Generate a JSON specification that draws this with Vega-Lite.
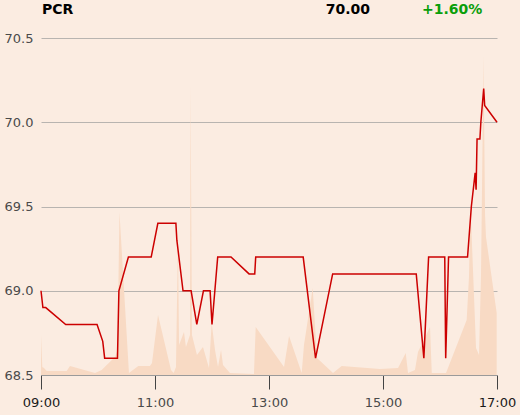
{
  "$schema": "https://vega.github.io/schema/vega-lite/v6.json",
  "autosize": {"type": "none"},
  "width": 456,
  "height": 337,
  "padding": {"left": 41, "top": 38, "right": 23, "bottom": 40},
  "background": "#FBECE1",
  "config": {
    "view": {"stroke": null},
    "font": "DejaVu Sans"
  },
  "datasets": {
    "price": [
      {"t": "2024-01-02T09:00:00", "p": 69.0},
      {"t": "2024-01-02T09:02:00", "p": 68.9},
      {"t": "2024-01-02T09:05:00", "p": 68.9},
      {"t": "2024-01-02T09:26:00", "p": 68.8},
      {"t": "2024-01-02T09:59:00", "p": 68.8},
      {"t": "2024-01-02T10:05:00", "p": 68.7},
      {"t": "2024-01-02T10:07:00", "p": 68.6},
      {"t": "2024-01-02T10:20:30", "p": 68.6},
      {"t": "2024-01-02T10:22:00", "p": 69.0},
      {"t": "2024-01-02T10:32:00", "p": 69.2},
      {"t": "2024-01-02T10:56:00", "p": 69.2},
      {"t": "2024-01-02T11:03:00", "p": 69.4},
      {"t": "2024-01-02T11:22:00", "p": 69.4},
      {"t": "2024-01-02T11:23:00", "p": 69.3},
      {"t": "2024-01-02T11:29:30", "p": 69.0},
      {"t": "2024-01-02T11:38:00", "p": 69.0},
      {"t": "2024-01-02T11:44:00", "p": 68.8},
      {"t": "2024-01-02T11:51:00", "p": 69.0},
      {"t": "2024-01-02T11:58:00", "p": 69.0},
      {"t": "2024-01-02T12:00:00", "p": 68.8},
      {"t": "2024-01-02T12:06:00", "p": 69.2},
      {"t": "2024-01-02T12:20:00", "p": 69.2},
      {"t": "2024-01-02T12:39:00", "p": 69.1},
      {"t": "2024-01-02T12:45:00", "p": 69.1},
      {"t": "2024-01-02T12:46:00", "p": 69.2},
      {"t": "2024-01-02T13:36:00", "p": 69.2},
      {"t": "2024-01-02T13:49:00", "p": 68.6},
      {"t": "2024-01-02T14:07:00", "p": 69.1},
      {"t": "2024-01-02T15:35:00", "p": 69.1},
      {"t": "2024-01-02T15:43:00", "p": 68.6},
      {"t": "2024-01-02T15:48:00", "p": 69.2},
      {"t": "2024-01-02T16:05:00", "p": 69.2},
      {"t": "2024-01-02T16:06:00", "p": 68.6},
      {"t": "2024-01-02T16:09:00", "p": 69.2},
      {"t": "2024-01-02T16:29:00", "p": 69.2},
      {"t": "2024-01-02T16:33:00", "p": 69.5},
      {"t": "2024-01-02T16:37:00", "p": 69.7},
      {"t": "2024-01-02T16:38:00", "p": 69.6},
      {"t": "2024-01-02T16:39:00", "p": 69.9},
      {"t": "2024-01-02T16:42:00", "p": 69.9},
      {"t": "2024-01-02T16:43:00", "p": 70.0},
      {"t": "2024-01-02T16:46:00", "p": 70.2},
      {"t": "2024-01-02T16:47:00", "p": 70.1},
      {"t": "2024-01-02T17:00:00", "p": 70.0}
    ],
    "volume": [
      {"t": "2024-01-02T09:00:00", "v": 40},
      {"t": "2024-01-02T09:01:22", "v": 8},
      {"t": "2024-01-02T09:03:10", "v": 7},
      {"t": "2024-01-02T09:06:00", "v": 4},
      {"t": "2024-01-02T09:27:00", "v": 4},
      {"t": "2024-01-02T09:30:30", "v": 9},
      {"t": "2024-01-02T09:56:50", "v": 2},
      {"t": "2024-01-02T10:03:55", "v": 5},
      {"t": "2024-01-02T10:09:10", "v": 10},
      {"t": "2024-01-02T10:17:55", "v": 18},
      {"t": "2024-01-02T10:20:30", "v": 25},
      {"t": "2024-01-02T10:22:35", "v": 163},
      {"t": "2024-01-02T10:32:35", "v": 2},
      {"t": "2024-01-02T10:42:25", "v": 9},
      {"t": "2024-01-02T10:54:40", "v": 9},
      {"t": "2024-01-02T10:56:50", "v": 12},
      {"t": "2024-01-02T11:03:10", "v": 60},
      {"t": "2024-01-02T11:07:25", "v": 43},
      {"t": "2024-01-02T11:16:50", "v": 5},
      {"t": "2024-01-02T11:19:40", "v": 2},
      {"t": "2024-01-02T11:22:05", "v": 8},
      {"t": "2024-01-02T11:24:10", "v": 135},
      {"t": "2024-01-02T11:25:20", "v": 30},
      {"t": "2024-01-02T11:30:30", "v": 43},
      {"t": "2024-01-02T11:32:35", "v": 28},
      {"t": "2024-01-02T11:36:50", "v": 40},
      {"t": "2024-01-02T11:37:25", "v": 290},
      {"t": "2024-01-02T11:38:55", "v": 40},
      {"t": "2024-01-02T11:44:10", "v": 20},
      {"t": "2024-01-02T11:50:30", "v": 28},
      {"t": "2024-01-02T11:56:50", "v": 7},
      {"t": "2024-01-02T11:59:40", "v": 52},
      {"t": "2024-01-02T12:03:10", "v": 25},
      {"t": "2024-01-02T12:06:20", "v": 8},
      {"t": "2024-01-02T12:09:30", "v": 25},
      {"t": "2024-01-02T12:11:35", "v": 10},
      {"t": "2024-01-02T12:18:55", "v": 2},
      {"t": "2024-01-02T12:44:10", "v": 1},
      {"t": "2024-01-02T12:46:00", "v": 48},
      {"t": "2024-01-02T13:15:50", "v": 8},
      {"t": "2024-01-02T13:21:05", "v": 39},
      {"t": "2024-01-02T13:34:25", "v": 2},
      {"t": "2024-01-02T13:36:50", "v": 30},
      {"t": "2024-01-02T13:46:00", "v": 87},
      {"t": "2024-01-02T13:50:30", "v": 17},
      {"t": "2024-01-02T14:07:25", "v": 2},
      {"t": "2024-01-02T14:16:30", "v": 9},
      {"t": "2024-01-02T14:56:50", "v": 6},
      {"t": "2024-01-02T15:15:50", "v": 7},
      {"t": "2024-01-02T15:23:55", "v": 22},
      {"t": "2024-01-02T15:26:20", "v": 2},
      {"t": "2024-01-02T15:33:40", "v": 5},
      {"t": "2024-01-02T15:36:50", "v": 23},
      {"t": "2024-01-02T15:49:30", "v": 48},
      {"t": "2024-01-02T15:51:20", "v": 2},
      {"t": "2024-01-02T16:03:10", "v": 2},
      {"t": "2024-01-02T16:06:20", "v": 2},
      {"t": "2024-01-02T16:28:05", "v": 55},
      {"t": "2024-01-02T16:30:30", "v": 98},
      {"t": "2024-01-02T16:32:05", "v": 170},
      {"t": "2024-01-02T16:37:55", "v": 27},
      {"t": "2024-01-02T16:41:05", "v": 20},
      {"t": "2024-01-02T16:43:10", "v": 100},
      {"t": "2024-01-02T16:45:50", "v": 319},
      {"t": "2024-01-02T16:47:25", "v": 160},
      {"t": "2024-01-02T16:48:25", "v": 138},
      {"t": "2024-01-02T16:59:40", "v": 62}
    ],
    "header": [
      {"name": "PCR", "last": 70.0, "change": "+1.60%"}
    ]
  },
  "layer": [
    {
      "data": {"name": "volume"},
      "mark": {"type": "area", "color": "#F8DAC4", "interpolate": "linear"},
      "encoding": {
        "x": {
          "field": "t", "type": "temporal",
          "scale": {"domain": [{"year": 2024, "month": 1, "date": 2, "hours": 9}, {"year": 2024, "month": 1, "date": 2, "hours": 17}]},
          "axis": {
            "values": [
              {"year": 2024, "month": 1, "date": 2, "hours": 9},
              {"year": 2024, "month": 1, "date": 2, "hours": 11},
              {"year": 2024, "month": 1, "date": 2, "hours": 13},
              {"year": 2024, "month": 1, "date": 2, "hours": 15},
              {"year": 2024, "month": 1, "date": 2, "hours": 17}
            ],
            "format": "%H:%M",
            "title": null,
            "grid": false,
            "domain": true,
            "domainColor": "#9a9a9a",
            "domainWidth": 1,
            "ticks": true,
            "tickSize": 14,
            "tickColor": "#444444",
            "tickWidth": 1,
            "labelPadding": 7,
            "labelFlush": false,
            "labelFontSize": 13,
            "labelFont": "DejaVu Sans",
            "labelColor": {"condition": {"test": "hours(datum.value) == 9 || hours(datum.value) == 17", "value": "#1a1a1a"}, "value": "#4a4a4a"}
          }
        },
        "y": {
          "field": "v", "type": "quantitative",
          "scale": {"domain": [0, 337], "nice": false, "zero": true},
          "axis": null
        }
      }
    },
    {
      "data": {"name": "price"},
      "mark": {"type": "line", "color": "#CC0000", "strokeWidth": 1.5, "interpolate": "linear"},
      "encoding": {
        "x": {"field": "t", "type": "temporal"},
        "y": {
          "field": "p", "type": "quantitative",
          "scale": {"domain": [68.5, 70.5], "nice": false, "zero": false},
          "axis": {
            "values": [68.5, 69.0, 69.5, 70.0, 70.5],
            "format": ".1f",
            "title": null,
            "grid": true,
            "gridColor": "#b8b4b0",
            "gridWidth": 1,
            "domain": false,
            "ticks": false,
            "labelPadding": 8,
            "labelFontSize": 13,
            "labelFont": "DejaVu Sans",
            "labelColor": "#4a4a4a"
          }
        }
      }
    },
    {
      "data": {"name": "header"},
      "mark": {"type": "text", "align": "left", "baseline": "middle", "fontSize": 14, "fontWeight": "bold", "color": "#000000", "font": "DejaVu Sans"},
      "encoding": {
        "text": {"field": "name"},
        "x": {"value": 1},
        "y": {"value": -28}
      }
    },
    {
      "data": {"name": "header"},
      "mark": {"type": "text", "align": "right", "baseline": "middle", "fontSize": 14, "fontWeight": "bold", "color": "#000000", "font": "DejaVu Sans"},
      "encoding": {
        "text": {"field": "last", "format": ".2f"},
        "x": {"value": 329},
        "y": {"value": -28}
      }
    },
    {
      "data": {"name": "header"},
      "mark": {"type": "text", "align": "left", "baseline": "middle", "fontSize": 14, "fontWeight": "bold", "color": "#0A9E0A", "font": "DejaVu Sans"},
      "encoding": {
        "text": {"field": "change"},
        "x": {"value": 381},
        "y": {"value": -28}
      }
    }
  ],
  "resolve": {"scale": {"y": "independent"}}
}
